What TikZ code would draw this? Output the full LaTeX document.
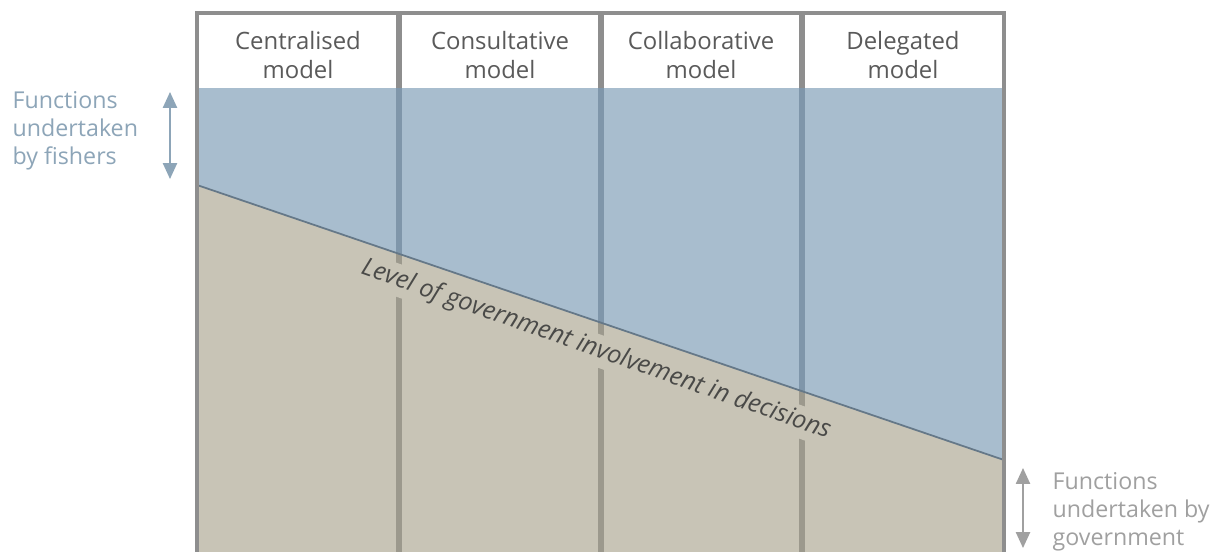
\documentclass[tikz,border=0pt]{standalone}
\usepackage{fontspec}
\setmainfont{Open Sans}
\usetikzlibrary{arrows.meta}
\definecolor{blueA}{HTML}{A8BDCE}
\definecolor{beige}{HTML}{C8C4B6}
\definecolor{divB}{HTML}{7F96AA}
\definecolor{divG}{HTML}{9C998D}
\definecolor{framec}{HTML}{8E8E8E}
\definecolor{hdtext}{HTML}{5A5A5A}
\definecolor{fishtext}{HTML}{8DA5B8}
\definecolor{govtext}{HTML}{A0A0A0}
\definecolor{diagtext}{HTML}{4A4A48}
\tikzset{
  hdr/.style={font=\fontsize{6.8}{8.4}\selectfont, text=hdtext, align=center},
  side/.style={font=\fontsize{6.6}{7.9}\selectfont, align=left, inner sep=0pt},
  divline/.style={line width=1.6pt},
  sidearrow/.style={line width=0.5pt, {Triangle[length=4.5pt,width=4pt]}-{Triangle[length=4.5pt,width=4pt]}},
}
\begin{document}
\begin{tikzpicture}[x=0.01cm,y=-0.01cm]
\useasboundingbox (0,0) rectangle (1230,551);
\fill[white] (0,0) rectangle (1230,551);
% regions
\fill[blueA] (197,88) -- (1004,88) -- (1004,460) -- (197,185) -- cycle;
\fill[beige] (197,185) -- (1004,460) -- (1004,565) -- (197,565) -- cycle;
% dividers
\foreach \x/\yl in {399/253.8, 601/322.7, 802/391.2}{
  \draw[divline, framec] (\x,13) -- (\x,88);
  \draw[divline, divB] (\x,88) -- (\x,\yl);
  \draw[divline, divG] (\x,\yl) -- (\x,565);
}
% diagonal label (hides dividers behind it)
\node[rotate=-19.4, fill=beige, inner sep=1pt, text=diagtext,
      font=\itshape\fontsize{7.1}{8}\selectfont] (diag) at (596,350)
  {Level of government involvement in decisions};
% diagonal boundary
\coordinate (dl) at (197,185);
\coordinate (dr) at (1004,460);
\draw[line width=0.5pt, divB!80!black] (dl) -- (dr);
% frame
\draw[line width=1.2pt, framec] (197,565) -- (197,13) -- (1004,13) -- (1004,565);
% headers
\node[hdr] (h1) at (298,55) {Centralised\\model};
\node[hdr] (h2) at (500,55) {Consultative\\model};
\node[hdr] (h3) at (701,55) {Collaborative\\model};
\node[hdr] (h4) at (903,55) {Delegated\\model};
% side labels
\node[side, text=fishtext, anchor=west] (fish) at (12,131) {Functions\\undertaken\\by fishers};
\node[side, text=govtext, anchor=north west] (gov) at (1052,472) {Functions\\undertaken by\\government};
% side arrows
\coordinate (fa) at (170,92);
\coordinate (fb) at (170,179);
\draw[sidearrow, fishtext] (fa) -- (fb);
\coordinate (ga) at (1023,468);
\coordinate (gb) at (1023,548);
\draw[sidearrow, govtext] (ga) -- (gb);
\end{tikzpicture}
\end{document}
